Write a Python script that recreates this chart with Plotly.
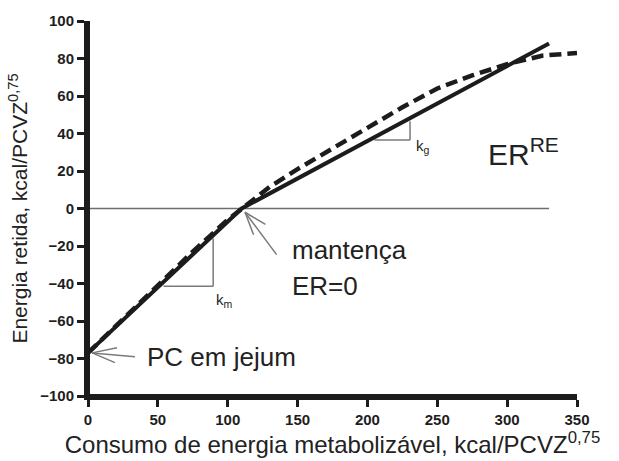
import plotly.graph_objects as go

# Data
solid_x = [0, 110, 330]
solid_y = [-77, 0, 88]

dashed_x = [0, 25, 50, 75, 100, 115, 130, 150, 175, 200, 225, 250, 275, 300, 325, 350]
dashed_y = [-77, -59, -41, -23, -6, 3, 11.5, 21, 32, 42.5, 54, 64, 71, 77, 81.5, 83]

x_ticks = [0, 50, 100, 150, 200, 250, 300, 350]
y_ticks = [-100, -80, -60, -40, -20, 0, 20, 40, 60, 80, 100]

x_range = [0, 350]
y_range = [-100, 100]

ink = "#1c1c1c"
thin = "#7a7a7a"

fig = go.Figure()
fig.add_trace(go.Scatter(x=dashed_x, y=dashed_y, mode="lines",
                         line=dict(color=ink, width=4.5, dash="12px,6px"),
                         showlegend=False, hoverinfo="skip"))
fig.add_trace(go.Scatter(x=solid_x, y=solid_y, mode="lines",
                         line=dict(color=ink, width=4),
                         showlegend=False, hoverinfo="skip"))

shapes = []
def seg(x0, y0, x1, y1, color=thin, width=1.5):
    shapes.append(dict(type="line", xref="x", yref="y", x0=x0, y0=y0, x1=x1, y1=y1,
                       line=dict(color=color, width=width), layer="below"))

# zero line
seg(0, 0, 330, 0, color="#6e6e6e", width=1.5)
# km triangle
seg(54, -41.4, 89.6, -41.4)
seg(89.6, -41.4, 89.6, -16)
# kg triangle
seg(205, 36.6, 230.5, 36.6)
seg(230.5, 36.6, 230.5, 46.6)
# PC arrow
seg(3, -77, 33.6, -79)
seg(3, -77, 20.8, -74.3)
seg(3, -77, 19.3, -82.2)
# mantenca arrow
seg(112.4, -2, 135, -24.6)
seg(112.4, -2, 127, -8.5)
seg(112.4, -2, 118.5, -14)

# axis lines as thin filled rectangles anchored to the axis edges
shapes.append(dict(type="rect", xref="x", yref="paper", xsizemode="pixel", xanchor=x_range[0],
                   x0=-2, x1=2, y0=-0.005, y1=1, fillcolor=ink, line=dict(width=0), layer="above"))
shapes.append(dict(type="rect", xref="paper", yref="y", ysizemode="pixel", yanchor=y_range[0],
                   y0=-2, y1=2, x0=-0.003, x1=1, fillcolor=ink, line=dict(width=0), layer="above"))
# tick marks as small rectangles at the tick values
for v in x_ticks:
    shapes.append(dict(type="rect", xref="x", yref="y", xsizemode="pixel", ysizemode="pixel",
                       xanchor=v, yanchor=y_range[0], x0=-1.2, x1=1.2, y0=-7, y1=0,
                       fillcolor=ink, line=dict(width=0), layer="above"))
for v in y_ticks:
    shapes.append(dict(type="rect", xref="x", yref="y", xsizemode="pixel", ysizemode="pixel",
                       xanchor=x_range[0], yanchor=v, x0=-7, x1=0, y0=-1.2, y1=1.2,
                       fillcolor=ink, line=dict(width=0), layer="above"))

font = "Liberation Sans, Arial, sans-serif"
ann = [
    dict(x=40.5, y=-79, text="PC em jejum", size=26),
    dict(x=144.5, y=-22, text="mantença", size=26),
    dict(x=144.5, y=-41.5, text="ER=0", size=26),
    dict(x=285, y=30, text="ER<sup>RE</sup>", size=30),
    dict(x=233.5, y=33, text="k<sub>g</sub>", size=15),
    dict(x=90.5, y=-49, text="k<sub>m</sub>", size=15),
]
annotations = []
for a in ann:
    annotations.append(dict(x=a["x"], y=a["y"], xref="x", yref="y", text=a["text"],
                            showarrow=False, xanchor="left", yanchor="middle",
                            font=dict(family=font, size=a["size"], color="#222222")))

fig.update_layout(
    width=619, height=461,
    margin=dict(l=88, r=42, t=19, b=59),
    paper_bgcolor="white", plot_bgcolor="white",
    font=dict(family=font, color="#222222"),
    shapes=shapes,
    annotations=annotations,
    xaxis=dict(range=x_range, tickmode="array", tickvals=x_ticks,
               ticktext=["<b>%d</b>" % v for v in x_ticks],
               showgrid=False, zeroline=False, showline=True, linecolor=ink, linewidth=4,
               ticks="outside", ticklen=7, tickwidth=2.5, tickcolor=ink,
               tickfont=dict(size=15, family=font, color="#1e1e1e"),
               title=dict(text="Consumo de energia metabolizável, kcal/PCVZ<sup>0,75</sup>",
                          font=dict(size=24, family=font, color="#222222"), standoff=4)),
    yaxis=dict(range=y_range, tickmode="array", tickvals=y_ticks,
               ticktext=["<b>%s</b>" % str(v).replace("-", "\u2212") for v in y_ticks],
               showgrid=False, zeroline=False, showline=True, linecolor=ink, linewidth=4,
               ticks="outside", ticklen=7, tickwidth=2.5, tickcolor=ink,
               tickfont=dict(size=15, family=font, color="#1e1e1e"),
               title=dict(text="Energia retida, kcal/PCVZ<sup>0,75</sup>",
                          font=dict(size=21, family=font, color="#222222"), standoff=8)),
)

fig.write_html("out.html")
